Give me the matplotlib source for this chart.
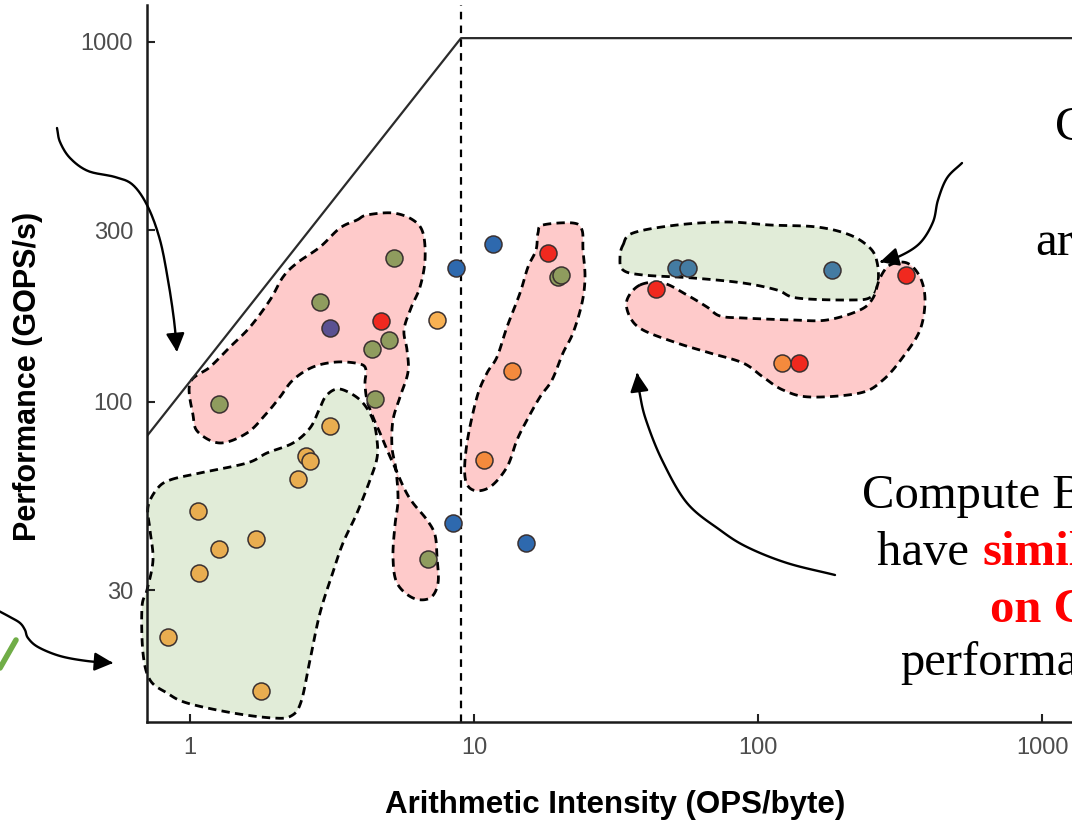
import numpy as np
import matplotlib
matplotlib.use('Agg')
import matplotlib.pyplot as plt
from matplotlib.path import Path
from matplotlib.patches import PathPatch, FancyArrowPatch
from matplotlib.lines import Line2D

# ---------------- data ----------------
x_ticks = [1, 10, 100, 1000]
x_tick_labels = ['1', '10', '100', '1000']
y_ticks = [30, 100, 300, 1000]
y_tick_labels = ['30', '100', '300', '1000']

peak_gops = 1025.0      # compute roof (GOPS/s)
ridge_ai = 9.0          # ridge point (OPS/byte)

yellow_x = [0.84, 1.78, 1.08, 1.27, 1.71, 1.07, 2.40, 2.56, 2.65, 3.11]
yellow_y = [22.2, 15.7, 33.5, 39.1, 41.6, 49.8, 61.1, 70.8, 68.5, 85.8]

olive_x = [5.23, 2.87, 5.02, 4.37, 1.265, 4.48, 19.8, 20.3, 6.89]
olive_y = [251, 190, 149, 140, 98.7, 102, 222, 225, 36.6]

purple_x = [3.11]
purple_y = [160]

red_x = [4.70, 18.2, 43.7, 139, 332]
red_y = [168, 259, 206, 128, 225]

orange_x = [13.6, 10.85, 121.5]
orange_y = [122, 69, 128]

lightorange_x = [7.41]
lightorange_y = [169]

blue_x = [11.67, 8.64, 8.44, 15.2]
blue_y = [275, 235, 46.1, 40.5]

steel_x = [51.4, 56.7, 182]
steel_y = [235, 235, 233]

# ---------------- figure ----------------
W, H = 1072, 824
fig = plt.figure(figsize=(W / 100, H / 100), dpi=100)
ax = fig.add_axes([147 / W, 1 - 722 / H, 1 - 147 / W, (722 - 5) / H])
ax.set_xscale('log')
ax.set_yscale('log')
ax.set_xlim(0.706, 1275)
ax.set_ylim(12.9, 1267)

for s in ['top', 'right']:
    ax.spines[s].set_visible(False)
for s in ['left', 'bottom']:
    ax.spines[s].set_linewidth(1.8)
    ax.spines[s].set_color('#1A1A1A')

ax.set_xticks(x_ticks)
ax.set_xticklabels(x_tick_labels)
ax.set_yticks(y_ticks)
ax.set_yticklabels(y_tick_labels)
ax.minorticks_off()
ax.tick_params(axis='both', direction='in', length=6, width=1.5, color='#222222',
               labelsize=17, labelcolor='#4D4D4D')
ax.tick_params(axis='y', pad=10)
ax.tick_params(axis='x', pad=11)
for lab in ax.get_xticklabels() + ax.get_yticklabels():
    lab.set_family('Liberation Sans')

# roofline
bw = peak_gops / ridge_ai
xr = np.array([0.5, ridge_ai, 2000.0])
yr = np.minimum(peak_gops, bw * xr)
ax.plot(xr, yr, color='#2B2B2B', lw=1.6, zorder=2)
ax.axvline(ridge_ai, color='black', lw=1.6, ls=(0, (3.4, 2.8)), zorder=2)

# ---------------- helper shapes (pixel coordinates) ----------------
def px2fig(pts):
    pts = np.asarray(pts, float)
    return np.column_stack([pts[:, 0] / W, 1 - pts[:, 1] / H])

def catmull(pts, closed=True, n=14):
    P = np.asarray(pts, float)
    if not closed:
        P = np.vstack([2 * P[0] - P[1], P, 2 * P[-1] - P[-2]])
    N = len(P)
    out = []
    rng = range(N) if closed else range(1, N - 2)
    t = np.linspace(0, 1, n, endpoint=False)[:, None]
    for i in rng:
        p0, p1, p2, p3 = P[i - 1], P[i], P[(i + 1) % N], P[(i + 2) % N]
        out.append(0.5 * (2 * p1 + (-p0 + p2) * t + (2 * p0 - 5 * p1 + 4 * p2 - p3) * t ** 2
                          + (-p0 + 3 * p1 - 3 * p2 + p3) * t ** 3))
    res = np.vstack(out)
    if not closed:
        res = np.vstack([res, P[-2]])
    return res

PINK = '#FECACA'
GREEN = '#E1ECD8'

blobs = [
    (PINK, [(357, 220), (367, 215), (393, 213), (413, 220), (423, 233), (425, 260), (420, 287),
            (411, 308), (404, 330), (407, 350), (408, 372), (400, 397), (393, 420), (392, 447),
            (396, 470), (398, 500), (395, 525), (393, 557), (397, 583), (413, 598), (430, 598),
            (438, 583), (437, 557), (435, 535), (427, 520), (413, 503), (405, 490), (396, 470),
            (388, 452), (380, 433), (373, 417), (367, 400), (365, 383), (366, 370), (360, 364),
            (337, 362), (313, 367), (293, 380), (280, 397), (266, 414), (247, 433), (220, 443),
            (198, 432), (193, 415), (190, 383), (210, 367), (230, 347), (250, 327), (270, 300),
            (283, 277), (297, 263), (320, 247), (340, 228)]),
    (GREEN, [(170, 480), (200, 473), (247, 463), (267, 453), (293, 443), (310, 428), (319, 410),
             (326, 396), (337, 389), (350, 393), (363, 403), (373, 420), (377, 440), (377, 458),
             (370, 480), (357, 513), (343, 543), (333, 572), (320, 613), (310, 660), (301, 702),
             (291, 716), (273, 718), (233, 713), (187, 703), (167, 693), (150, 680), (143, 653),
             (142, 607), (147, 590), (153, 560), (150, 530), (148, 507), (157, 489)]),
    (PINK, [(543, 225), (573, 223), (582, 230), (583, 250), (585, 277), (582, 303), (573, 333),
            (563, 353), (552, 380), (540, 397), (527, 420), (517, 440), (507, 467), (490, 487),
            (473, 490), (465, 477), (467, 443), (477, 397), (487, 373), (497, 357), (507, 327),
            (520, 293), (528, 267), (536, 250), (538, 233)]),
    (GREEN, [(623, 245), (633, 233), (677, 225), (727, 222), (770, 225), (817, 227), (850, 235),
             (870, 248), (877, 262), (878, 282), (871, 297), (850, 300), (797, 298), (777, 290),
             (743, 283), (693, 278), (643, 275), (623, 270), (620, 257)]),
    (PINK, [(640, 285), (663, 283), (687, 295), (707, 307), (720, 316), (743, 318), (793, 320),
            (827, 320), (860, 310), (873, 298), (880, 278), (890, 265), (907, 263), (920, 277),
            (925, 300), (920, 330), (903, 357), (883, 380), (860, 393), (810, 397), (783, 390),
            (763, 377), (743, 363), (710, 353), (677, 343), (643, 330), (630, 317), (627, 300)]),
]

for color, pts in blobs:
    verts = px2fig(catmull(pts, closed=True))
    verts = np.vstack([verts, verts[:1]])
    codes = [Path.MOVETO] + [Path.LINETO] * (len(verts) - 2) + [Path.CLOSEPOLY]
    patch = PathPatch(Path(verts, codes), facecolor=color, edgecolor='black', lw=2.0,
                      ls=(0, (3.0, 1.9)), transform=fig.transFigure, zorder=1, clip_on=False)
    ax.add_patch(patch)

# ---------------- points ----------------
series = [
    (yellow_x, yellow_y, '#E9AD50'),
    (olive_x, olive_y, '#8F9C5E'),
    (purple_x, purple_y, '#5A5191'),
    (red_x, red_y, '#F0291F'),
    (orange_x, orange_y, '#F48A3D'),
    (lightorange_x, lightorange_y, '#F8B153'),
    (blue_x, blue_y, '#2E69AE'),
    (steel_x, steel_y, '#447BA2'),
]
for xs, ys, c in series:
    ax.scatter(xs, ys, s=150, c=c, edgecolors='#3A3030', linewidths=1.1, zorder=3)

# ---------------- labels ----------------
fig.text(28 / W, 1 - 376 / H, 'Performance (GOPS/s)', rotation=90, ha='center', va='center',
         fontsize=22, fontweight='bold', family='Liberation Sans')
fig.text(615 / W, 1 - 805 / H, 'Arithmetic Intensity (OPS/byte)', ha='center', va='center',
         fontsize=22.5, fontweight='bold', family='Liberation Sans')

# ---------------- arrows ----------------
arrows = [
    [(57, 128), (60, 142), (70, 158), (88, 171), (115, 177), (133, 185), (148, 207), (160, 240),
     (168, 280), (174, 320), (177, 352)],
    [(-5, 609), (10, 617), (20, 623), (25, 630), (28, 638), (38, 647), (60, 656), (87, 661),
     (113, 663)],
    [(962, 163), (947, 178), (938, 200), (933, 222), (920, 243), (900, 256), (880, 262)],
    [(835, 575), (787, 563), (747, 547), (720, 530), (687, 503), (662, 460), (646, 420),
     (640, 395), (637, 373)],
]
for pts in arrows:
    verts = px2fig(catmull(pts, closed=False))
    codes = [Path.MOVETO] + [Path.LINETO] * (len(verts) - 1)
    arr = FancyArrowPatch(path=Path(verts, codes), arrowstyle='-|>', mutation_scale=28,
                          lw=1.7, color='black', transform=fig.transFigure, zorder=5)
    fig.add_artist(arr)

# green check mark fragment
chk = px2fig([(0, 668), (16, 640)])
fig.add_artist(Line2D(chk[:, 0], chk[:, 1], transform=fig.transFigure, color='#70AD47',
                      lw=4, solid_capstyle='round'))

# ---------------- annotation texts ----------------
serif = 'Liberation Serif'
fs = 35
fig.text(1055 / W, 1 - 140 / H, 'Compute', fontsize=fs, family=serif, va='baseline')
fig.text(1035 / W, 1 - 255 / H, 'are', fontsize=fs, family=serif, va='baseline')

fig.text(862 / W, 1 - 508 / H, 'Compute Bound', fontsize=fs, family=serif, va='baseline')
fig.text(877 / W, 1 - 565 / H, 'have ', fontsize=fs, family=serif, va='baseline')
fig.text(982 / W, 1 - 565 / H, 'similar', fontsize=fs, family=serif, va='baseline',
         color='#FF0000', fontweight='bold')
fig.text(990 / W, 1 - 622 / H, 'on CPU', fontsize=fs, family=serif, va='baseline',
         color='#FF0000', fontweight='bold')
fig.text(900 / W, 1 - 675 / H, 'performance', fontsize=fs, family=serif, va='baseline')

fig.savefig('out.png', dpi=100)
